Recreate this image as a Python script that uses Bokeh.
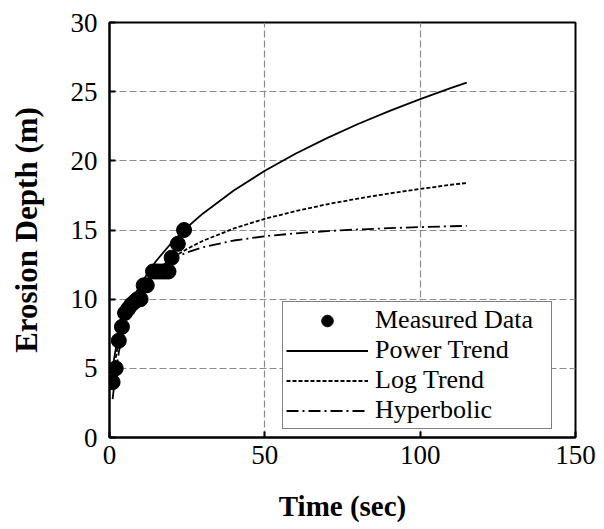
from bokeh.plotting import figure
from bokeh.models import Range1d, FixedTicker, Legend, LegendItem
from bokeh.embed import file_html
from bokeh.resources import INLINE

# Measured data
meas_t = [1, 2, 3, 4, 5, 6, 7, 8, 9, 10, 11, 12, 14, 15, 16, 17, 18, 19, 20, 22, 24]
meas_d = [4, 5, 7, 8, 9, 9.3, 9.6, 9.8, 10, 10, 11, 11, 12, 12, 12, 12, 12, 12, 13, 14, 15]

# Trend curves
trend_t = [1, 2, 3, 5, 7, 10, 15, 20, 25, 30, 40, 50, 60, 70, 80, 90, 100, 110, 115]
power_d = [5.04, 6.39, 7.35, 8.75, 9.82, 11.10, 12.76, 14.08, 15.20, 16.18, 17.86,
           19.28, 20.53, 21.64, 22.66, 23.59, 24.46, 25.27, 25.66]
log_d = [3.60, 5.76, 7.03, 8.62, 9.67, 10.78, 12.05, 12.95, 13.64, 14.21, 15.11,
         15.81, 16.37, 16.86, 17.27, 17.64, 17.97, 18.27, 18.40]
hyper_d = [2.77, 4.72, 6.17, 8.17, 9.49, 10.80, 12.10, 12.87, 13.39, 13.75, 14.24,
           14.55, 14.76, 14.92, 15.04, 15.13, 15.21, 15.27, 15.30]

x_ticks = [0, 50, 100, 150]
y_ticks = [0, 5, 10, 15, 20, 25, 30]

FONT = "Liberation Serif"

p = figure(width=596, height=529, output_backend="svg", toolbar_location=None,
           x_range=Range1d(0, 150), y_range=Range1d(0, 30),
           min_border_left=109, min_border_right=21, min_border_top=22, min_border_bottom=92)
p.background_fill_color = "white"
p.border_fill_color = "white"
p.outline_line_color = "black"
p.outline_line_width = 2

for ax in (p.xaxis[0], p.yaxis[0]):
    ax.major_label_text_font = FONT
    ax.major_label_text_font_size = "27px"
    ax.major_label_text_color = "black"
    ax.axis_label_text_font = FONT
    ax.axis_label_text_font_style = "bold"
    ax.axis_label_text_color = "black"
    ax.axis_line_color = "black"
    ax.axis_line_width = 2
    ax.major_tick_in = 6
    ax.major_tick_out = 0
    ax.major_tick_line_color = "black"
    ax.major_tick_line_width = 2
    ax.minor_tick_line_color = None

p.xaxis.axis_label_text_font_size = "29px"
p.yaxis.axis_label_text_font_size = "31px"
p.xaxis.ticker = FixedTicker(ticks=x_ticks)
p.yaxis.ticker = FixedTicker(ticks=y_ticks)
p.xaxis.axis_label = "Time (sec)"
p.yaxis.axis_label = "Erosion Depth (m)"
p.xaxis.major_label_standoff = 8
p.yaxis.major_label_standoff = 12
p.xaxis.axis_label_standoff = 23
p.yaxis.axis_label_standoff = 24

for g in (p.xgrid[0], p.ygrid[0]):
    g.grid_line_color = "#8c8c8c"
    g.grid_line_dash = "7 3"
    g.grid_line_width = 1.2
p.xgrid.ticker = FixedTicker(ticks=x_ticks)
p.ygrid.ticker = FixedTicker(ticks=y_ticks)

r_meas = p.scatter(meas_t, meas_d, size=15, marker="circle", fill_color="black", line_color="black")
r_pow = p.line(trend_t, power_d, line_color="black", line_width=1.8)
r_log = p.line(trend_t, log_d, line_color="black", line_width=1.8, line_dash="4 2")
r_hyp = p.line(trend_t, hyper_d, line_color="black", line_width=1.8, line_dash="12 4 2 4")

legend = Legend(items=[
    LegendItem(label="Measured Data", renderers=[r_meas]),
    LegendItem(label="Power Trend", renderers=[r_pow]),
    LegendItem(label="Log Trend", renderers=[r_log]),
    LegendItem(label="Hyperbolic", renderers=[r_hyp]),
], location=(173, 8))
legend.label_text_font = FONT
legend.label_text_font_size = "26px"
legend.label_text_color = "black"
legend.glyph_width = 82
legend.glyph_height = 29
legend.label_height = 29
legend.label_width = 173
legend.label_standoff = 7
legend.spacing = 0
legend.padding = 3
legend.margin = 0
legend.border_line_color = "black"
legend.border_line_width = 1.5
legend.background_fill_color = "white"
legend.background_fill_alpha = 1
p.add_layout(legend, "center")

open("out.html", "w").write(file_html(p, INLINE))
